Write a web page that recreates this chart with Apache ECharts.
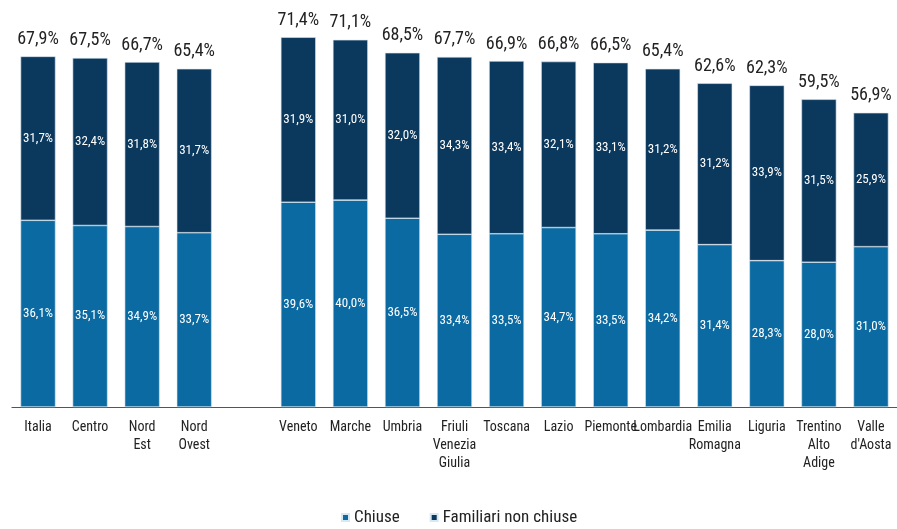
<!DOCTYPE html>
<html><head><meta charset="utf-8">
<script src="https://cdn.jsdelivr.net/npm/echarts@6/dist/echarts.min.js"></script>
<style>html,body{margin:0;padding:0;background:#fff}#c{width:897px;height:529px}</style>
</head><body><div id="c"></div>
<script>
const categories = ['Italia','Centro','Nord\nEst','Nord\nOvest','','Veneto','Marche','Umbria','Friuli\nVenezia\nGiulia','Toscana','Lazio','Piemonte','Lombardia','Emilia\nRomagna','Liguria','Trentino\nAlto\nAdige','Valle\nd\'Aosta'];
const chiuse = [36.1,35.1,34.9,33.7,null,39.6,40.0,36.5,33.4,33.5,34.7,33.5,34.2,31.4,28.3,28.0,31.0];
const familiari = [31.7,32.4,31.8,31.7,null,31.9,31.0,32.0,34.3,33.4,32.1,33.1,31.2,31.2,33.9,31.5,25.9];
const totals = [67.9,67.5,66.7,65.4,null,71.4,71.1,68.5,67.7,66.9,66.8,66.5,65.4,62.6,62.3,59.5,56.9];

const fmt = v => v.toFixed(1).replace('.', ',') + '%';
const FONT = '"Roboto Condensed", sans-serif';
const chart = echarts.init(document.getElementById('c'), null, {renderer:'canvas'});
chart.setOption({
  animation:false,
  grid:{left:12, width:892, top:0, height:407},
  legend:{
    data:['Chiuse','Familiari non chiuse'],
    left:336, top:507, padding:[2,5,2,5], itemWidth:7, itemHeight:7, itemGap:30, icon:'rect',
    textStyle:{fontFamily:FONT, fontSize:17, color:'#222'}
  },
  xAxis:{
    type:'category', data:categories,
    axisLine:{lineStyle:{color:'#555', width:1.2}},
    axisTick:{show:false},
    axisLabel:{interval:0, fontFamily:FONT, fontSize:14, color:'#222', lineHeight:18, margin:11}
  },
  yAxis:{type:'value', min:0, max:78.7, show:false, splitLine:{show:false}},
  series:[
    {name:'Chiuse', type:'bar', stack:'s', data:chiuse, barWidth:35,
     itemStyle:{color:'#0a6aa1', borderColor:'#d8e8f2', borderWidth:0.6},
     label:{show:true, position:'inside', color:'#fff', fontFamily:FONT, fontSize:13, formatter:p=>fmt(p.value)}},
    {name:'Familiari non chiuse', type:'bar', stack:'s', data:familiari, barWidth:35,
     itemStyle:{color:'#0b385d', borderColor:'#d8e8f2', borderWidth:0.6},
     label:{show:true, position:'inside', color:'#fff', fontFamily:FONT, fontSize:13, formatter:p=>fmt(p.value)}},
    {name:'Totale', type:'bar', stack:'s', data:totals.map(t=>t==null?null:0), barWidth:35,
     itemStyle:{color:'transparent'},
     label:{show:true, position:'top', distance:8, color:'#222', fontFamily:FONT, fontSize:18,
       formatter:p=>totals[p.dataIndex]==null?'':fmt(totals[p.dataIndex])}}
  ]
});
</script></body></html>
